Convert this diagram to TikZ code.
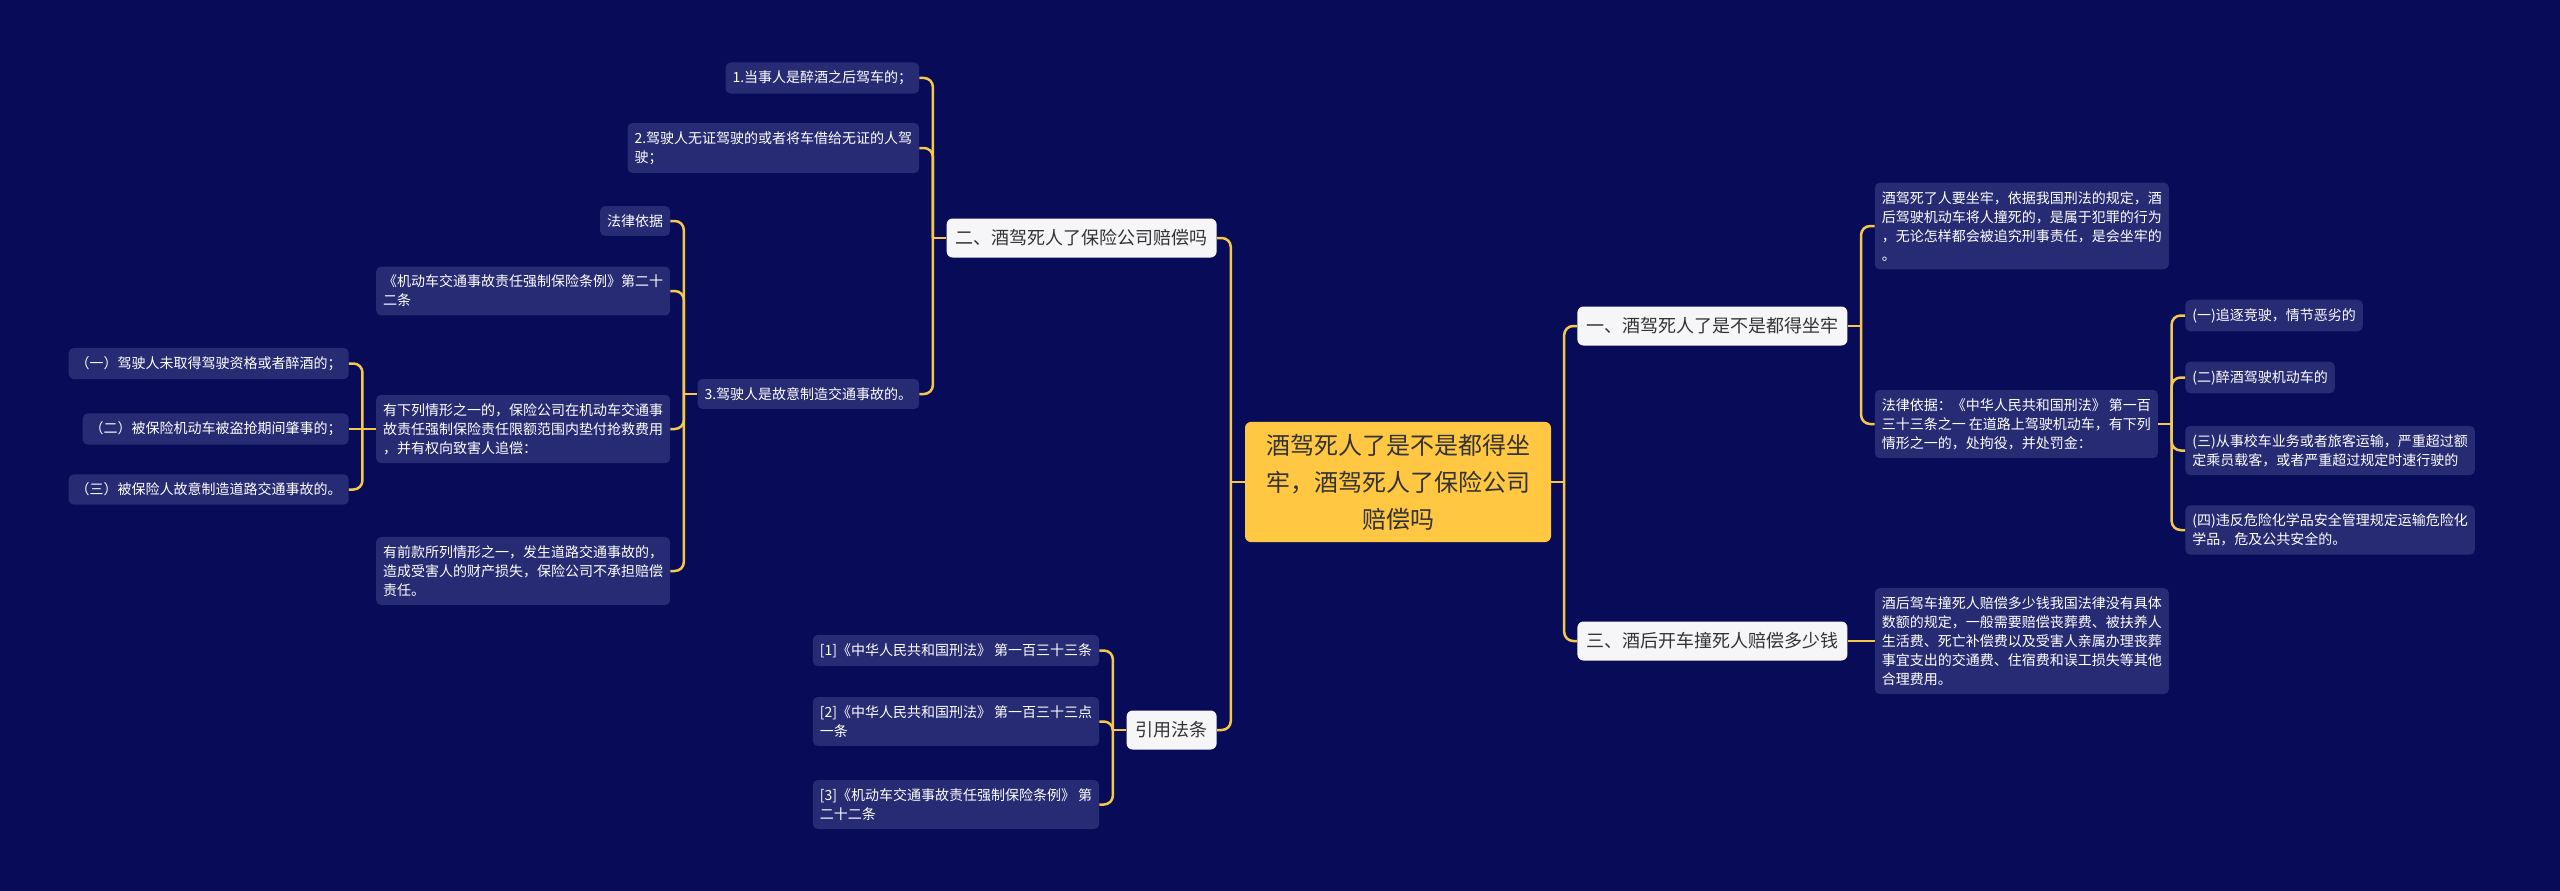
\documentclass[tikz,border=0pt]{standalone}
\usepackage{fontspec}
\setmainfont{Noto Sans CJK SC}
\usepackage{tikz}
\usetikzlibrary{positioning}
\definecolor{bgblue}{HTML}{080C58}
\definecolor{leafblue}{HTML}{262B73}
\definecolor{linkgold}{HTML}{F5C84A}
\definecolor{rootgold}{HTML}{FFC742}
\definecolor{topicgrey}{HTML}{F6F6F8}
\definecolor{inkgrey}{HTML}{333333}

\begin{document}
\begin{tikzpicture}[
        x=1pt, y=1pt,
        node distance=27pt,
        root/.style={fill=rootgold, text=inkgrey, rounded corners=6pt, align=center, font=\fontsize{24}{37}\selectfont, inner xsep=21pt, inner ysep=12pt},
        topic/.style={fill=topicgrey, text=inkgrey, rounded corners=6pt, font=\fontsize{18}{22}\selectfont, inner xsep=9pt, minimum height=39pt},
        leaf/.style={fill=leafblue, text=white, rounded corners=5pt, align=left, font=\fontsize{14}{19}\selectfont, inner xsep=7pt, inner ysep=8.5pt},
        link/.style={draw=linkgold, line width=2.5pt, rounded corners=9pt}
    ]
        \fill[bgblue] (0,0) rectangle (2560,-891);
        \useasboundingbox (0,0) rectangle (2560,-891);

        \node[root] (root) at (1398,-482) {酒驾死人了是不是都得坐\\牢，酒驾死人了保险公司\\赔偿吗};

        \node[topic, left=28pt of root, yshift=244pt] (two) {二、酒驾死人了保险公司赔偿吗};
        \node[topic, left=28pt of root, yshift=-248pt] (cite) {引用法条};
        \node[topic, right=26pt of root, yshift=156pt] (one) {一、酒驾死人了是不是都得坐牢};
        \node[topic, right=26pt of root, yshift=-159pt] (three) {三、酒后开车撞死人赔偿多少钱};

        \node[leaf, left=of two, yshift=160pt] (drunk) {1.当事人是醉酒之后驾车的；};
        \node[leaf, left=of two, yshift=90pt] (nolicence) {2.驾驶人无证驾驶的或者将车借给无证的人驾\\驶；};
        \node[leaf, left=of two, yshift=-156pt] (deliberate) {3.驾驶人是故意制造交通事故的。};

        \node[leaf, left=of deliberate, yshift=173pt] (basis) {法律依据};
        \node[leaf, left=of deliberate, yshift=103pt] (statute) {《机动车交通事故责任强制保险条例》第二十\\二条};
        \node[leaf, left=of deliberate, yshift=-35pt] (advance) {有下列情形之一的，保险公司在机动车交通事\\故责任强制保险责任限额范围内垫付抢救费用\\，并有权向致害人追偿：};
        \node[leaf, left=of deliberate, yshift=-177pt] (noliab) {有前款所列情形之一，发生道路交通事故的，\\造成受害人的财产损失，保险公司不承担赔偿\\责任。};

        \node[leaf, left=of advance, yshift=65.5pt] (caseA) {（一）驾驶人未取得驾驶资格或者醉酒的；};
        \node[leaf, left=of advance] (caseB) {（二）被保险机动车被盗抢期间肇事的；};
        \node[leaf, left=of advance, yshift=-60.5pt] (caseC) {（三）被保险人故意制造道路交通事故的。};

        \node[leaf, left=of cite, yshift=79.5pt] (ref1) {[1]《中华人民共和国刑法》 第一百三十三条};
        \node[leaf, left=of cite, yshift=8.5pt] (ref2) {[2]《中华人民共和国刑法》 第一百三十三点\\一条};
        \node[leaf, left=of cite, yshift=-74.5pt] (ref3) {[3]《机动车交通事故责任强制保险条例》 第\\二十二条};

        \node[leaf, right=of one, yshift=100pt] (jail) {酒驾死了人要坐牢，依据我国刑法的规定，酒\\后驾驶机动车将人撞死的，是属于犯罪的行为\\，无论怎样都会被追究刑事责任，是会坐牢的\\。};
        \node[leaf, right=of one, yshift=-98pt] (lawbasis) {法律依据：《中华人民共和国刑法》 第一百\\三十三条之一 在道路上驾驶机动车，有下列\\情形之一的，处拘役，并处罚金：};

        \node[leaf, right=of lawbasis, yshift=108.5pt] (itemA) {(一)追逐竞驶，情节恶劣的};
        \node[leaf, right=of lawbasis, yshift=46.5pt] (itemB) {(二)醉酒驾驶机动车的};
        \node[leaf, right=of lawbasis, yshift=-26.5pt] (itemC) {(三)从事校车业务或者旅客运输，严重超过额\\定乘员载客，或者严重超过规定时速行驶的};
        \node[leaf, right=of lawbasis, yshift=-106pt] (itemD) {(四)违反危险化学品安全管理规定运输危险化\\学品，危及公共安全的。};

        \node[leaf, right=of three] (compensate) {酒后驾车撞死人赔偿多少钱我国法律没有具体\\数额的规定，一般需要赔偿丧葬费、被扶养人\\生活费、死亡补偿费以及受害人亲属办理丧葬\\事宜支出的交通费、住宿费和误工损失等其他\\合理费用。};

        \coordinate[left=14pt of root] (rootL);
        \coordinate[right=13pt of root] (rootR);
        \coordinate[left=13.5pt of two] (twoJ);
        \coordinate[left=13.5pt of deliberate] (deliberateJ);
        \coordinate[left=13.5pt of advance] (advanceJ);
        \coordinate[left=13.5pt of cite] (citeJ);
        \coordinate[right=13.5pt of one] (oneJ);
        \coordinate[right=13.5pt of lawbasis] (lawbasisJ);

        \draw[link] (root.west) -- (rootL);
        \draw[link] (rootL) |- (two.east);
        \draw[link] (rootL) |- (cite.east);
        \draw[link] (root.east) -- (rootR);
        \draw[link] (rootR) |- (one.west);
        \draw[link] (rootR) |- (three.west);

        \draw[link] (two.west) -- (twoJ);
        \draw[link] (twoJ) |- (drunk.east);
        \draw[link] (twoJ) |- (nolicence.east);
        \draw[link] (twoJ) |- (deliberate.east);

        \draw[link] (deliberate.west) -- (deliberateJ);
        \draw[link] (deliberateJ) |- (basis.east);
        \draw[link] (deliberateJ) |- (statute.east);
        \draw[link] (deliberateJ) |- (advance.east);
        \draw[link] (deliberateJ) |- (noliab.east);

        \draw[link] (advance.west) -- (advanceJ);
        \draw[link] (advanceJ) |- (caseA.east);
        \draw[link] (advanceJ) -- (caseB.east);
        \draw[link] (advanceJ) |- (caseC.east);

        \draw[link] (cite.west) -- (citeJ);
        \draw[link] (citeJ) |- (ref1.east);
        \draw[link] (citeJ) |- (ref2.east);
        \draw[link] (citeJ) |- (ref3.east);

        \draw[link] (one.east) -- (oneJ);
        \draw[link] (oneJ) |- (jail.west);
        \draw[link] (oneJ) |- (lawbasis.west);

        \draw[link] (lawbasis.east) -- (lawbasisJ);
        \draw[link] (lawbasisJ) |- (itemA.west);
        \draw[link] (lawbasisJ) |- (itemB.west);
        \draw[link] (lawbasisJ) |- (itemC.west);
        \draw[link] (lawbasisJ) |- (itemD.west);

        \draw[link] (three.east) -- (compensate.west);
    \end{tikzpicture}
\end{document}
